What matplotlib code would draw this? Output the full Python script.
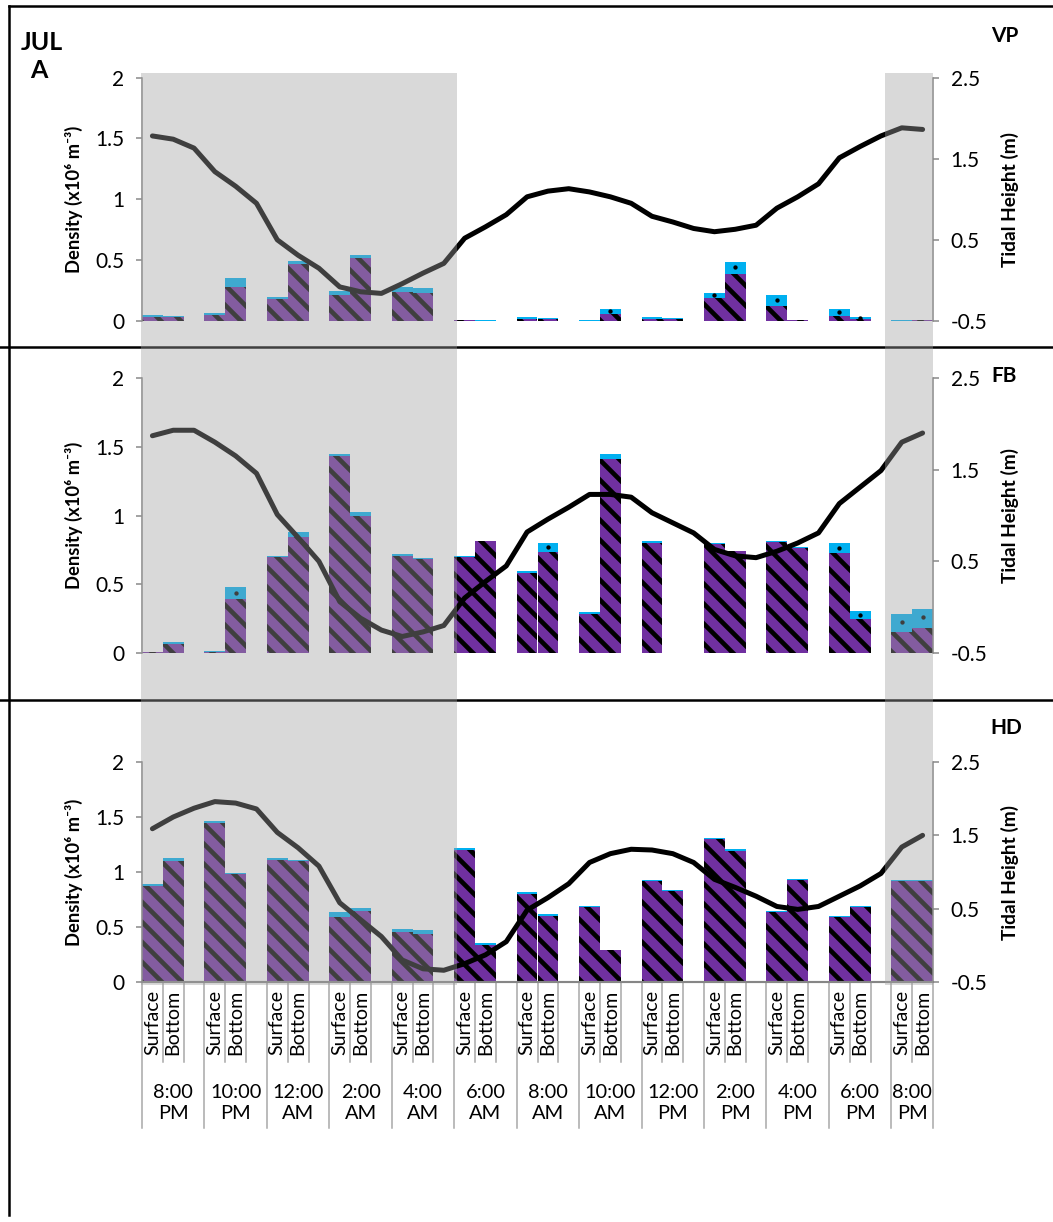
import numpy as np
import matplotlib
matplotlib.use("Agg")
import matplotlib.pyplot as plt
from matplotlib.patches import Rectangle
from matplotlib.lines import Line2D

plt.rcParams['font.family'] = ['Lato', 'DejaVu Sans']
plt.rcParams['hatch.linewidth'] = 2.8
plt.rcParams['hatch.color'] = 'black'

# ---------------- data ----------------
times = ["8:00\nPM", "10:00\nPM", "12:00\nAM", "2:00\nAM", "4:00\nAM", "6:00\nAM",
         "8:00\nAM", "10:00\nAM", "12:00\nPM", "2:00\nPM", "4:00\nPM", "6:00\nPM", "8:00\nPM"]
depths = ["Surface", "Bottom"]
sites = ["VP", "FB", "HD"]

# density (x10^6 m^-3): purple (hatched) part and cyan part stacked on top
vp_surface_purple = [0.035, 0.047, 0.180, 0.217, 0.242, 0.008, 0.016, 0.000, 0.020, 0.187, 0.121, 0.039, 0.000]
vp_surface_cyan   = [0.017, 0.019, 0.018, 0.031, 0.038, 0.004, 0.020, 0.005, 0.010, 0.047, 0.096, 0.057, 0.005]
vp_bottom_purple  = [0.030, 0.280, 0.465, 0.520, 0.234, 0.000, 0.014, 0.058, 0.016, 0.385, 0.005, 0.016, 0.008]
vp_bottom_cyan    = [0.015, 0.070, 0.030, 0.022, 0.033, 0.005, 0.008, 0.041, 0.006, 0.102, 0.000, 0.014, 0.002]

fb_surface_purple = [0.004, 0.010, 0.700, 1.432, 0.704, 0.700, 0.585, 0.283, 0.797, 0.790, 0.804, 0.726, 0.156]
fb_surface_cyan   = [0.006, 0.005, 0.004, 0.015, 0.016, 0.009, 0.009, 0.014, 0.017, 0.010, 0.014, 0.074, 0.127]
fb_bottom_purple  = [0.066, 0.390, 0.845, 1.000, 0.687, 0.815, 0.736, 1.410, 0.003, 0.740, 0.762, 0.246, 0.185]
fb_bottom_cyan    = [0.014, 0.090, 0.035, 0.025, 0.003, 0.003, 0.064, 0.037, 0.000, 0.005, 0.008, 0.056, 0.137]

hd_surface_purple = [0.870, 1.447, 1.110, 0.595, 0.452, 1.197, 0.800, 0.678, 0.915, 1.298, 0.638, 0.587, 0.915]
hd_surface_cyan   = [0.025, 0.013, 0.017, 0.045, 0.030, 0.024, 0.015, 0.012, 0.015, 0.015, 0.009, 0.013, 0.012]
hd_bottom_purple  = [1.100, 0.983, 1.096, 0.650, 0.434, 0.333, 0.600, 0.290, 0.830, 1.195, 0.927, 0.680, 0.918]
hd_bottom_cyan    = [0.027, 0.007, 0.012, 0.025, 0.042, 0.018, 0.017, 0.000, 0.006, 0.015, 0.009, 0.007, 0.009]

# groups with a small marker in the cyan segment
vp_mark_surface = [9, 10, 11]
vp_mark_bottom = [7, 9, 11]
fb_mark_surface = [11, 12]
fb_mark_bottom = [1, 6, 11, 12]
hd_mark_surface = []
hd_mark_bottom = []

# tidal height (m), one value per category slot (38 slots)
vp_tide = [1.78, 1.74, 1.63, 1.34, 1.16, 0.95, 0.50, 0.31, 0.15, -0.08, -0.14, -0.16, -0.04, 0.09, 0.21,
           0.52, 0.66, 0.81, 1.03, 1.10, 1.13, 1.09, 1.03, 0.95, 0.79, 0.72, 0.64, 0.60, 0.63, 0.68,
           0.89, 1.03, 1.19, 1.51, 1.65, 1.78, 1.88, 1.86]
fb_tide = [1.87, 1.93, 1.93, 1.80, 1.65, 1.46, 1.01, 0.76, 0.50, 0.06, -0.12, -0.25, -0.32, -0.27, -0.20,
           0.10, 0.28, 0.45, 0.82, 0.96, 1.09, 1.23, 1.23, 1.20, 1.03, 0.92, 0.81, 0.63, 0.56, 0.54,
           0.61, 0.70, 0.81, 1.13, 1.31, 1.49, 1.80, 1.90]
hd_tide = [1.59, 1.75, 1.87, 1.96, 1.94, 1.86, 1.54, 1.33, 1.08, 0.58, 0.35, 0.12, -0.20, -0.32, -0.34,
           -0.25, -0.13, 0.05, 0.48, 0.65, 0.84, 1.13, 1.25, 1.31, 1.30, 1.25, 1.13, 0.90, 0.79, 0.67,
           0.53, 0.49, 0.53, 0.67, 0.81, 0.98, 1.34, 1.50]

left_ticks = [0, 0.5, 1, 1.5, 2]
left_ticklabels = ["0", "0.5", "1", "1.5", "2"]
right_ticks = [-0.5, 0.5, 1.5, 2.5]
right_ticklabels = ["-0.5", "0.5", "1.5", "2.5"]

# ---------------- style ----------------
W, H = 1053, 1222
DPI = 120
PURPLE = "#7030A0"
CYAN = "#00B0F0"
AXGRAY = "#868686"
TABLEGRAY = "#A6A6A6"

fig = plt.figure(figsize=(W / DPI, H / DPI), dpi=DPI)
fig.patch.set_facecolor("white")

X0, X1 = 142, 933
panels = [
    dict(site="VP", top=77.5, bot=321, sp=vp_surface_purple, sc=vp_surface_cyan,
         bp=vp_bottom_purple, bc=vp_bottom_cyan, tide=vp_tide,
         ms=vp_mark_surface, mb=vp_mark_bottom, label_xy=(1005, 36)),
    dict(site="FB", top=378, bot=653, sp=fb_surface_purple, sc=fb_surface_cyan,
         bp=fb_bottom_purple, bc=fb_bottom_cyan, tide=fb_tide,
         ms=fb_mark_surface, mb=fb_mark_bottom, label_xy=(1004, 376)),
    dict(site="HD", top=762, bot=982, sp=hd_surface_purple, sc=hd_surface_cyan,
         bp=hd_bottom_purple, bc=hd_bottom_cyan, tide=hd_tide,
         ms=hd_mark_surface, mb=hd_mark_bottom, label_xy=(1006, 728)),
]

n_groups = len(times)
xs_surface = np.arange(n_groups) * 3
xs_bottom = xs_surface + 1
n_slots = len(vp_tide)


def fx(px):
    return px / W


def fy(py):
    return 1 - py / H


for i, p in enumerate(panels):
    ax = fig.add_axes([fx(X0), fy(p["bot"]), (X1 - X0) / W, (p["bot"] - p["top"]) / H])
    ax.patch.set_visible(False)
    ax.set_xlim(-0.5, n_slots - 0.5)
    ax.set_ylim(0, 2)

    for xs, pv, cv, marks in [(xs_surface, p["sp"], p["sc"], p["ms"]),
                              (xs_bottom, p["bp"], p["bc"], p["mb"])]:
        pv = np.array(pv)
        cv = np.array(cv)
        ax.bar(xs, pv, width=1.0, color=PURPLE, edgecolor="black", linewidth=0,
               hatch="\\\\", zorder=2)
        ax.bar(xs, cv, bottom=pv, width=1.0, color=CYAN, linewidth=0, zorder=2)
        if marks:
            mk = np.array(marks)
            ax.plot(xs[mk], pv[mk] + cv[mk] * 0.55, "o", ms=1.6, color="black",
                    zorder=3, linestyle="none")

    ax.set_xticks([])
    ax.set_yticks(left_ticks)
    ax.set_yticklabels(left_ticklabels)
    ax.tick_params(axis="y", direction="out", length=3.6, width=0.9, color=AXGRAY,
                   labelsize=12.5, pad=7)
    for s in ["top", "right"]:
        ax.spines[s].set_visible(False)
    ax.spines["left"].set_color(AXGRAY)
    ax.spines["left"].set_linewidth(0.9)
    if i < 2:
        ax.spines["bottom"].set_visible(False)
    else:
        ax.spines["bottom"].set_color(AXGRAY)
        ax.spines["bottom"].set_linewidth(1.3)

    ax2 = ax.twinx()
    ax2.patch.set_visible(False)
    ax2.set_ylim(-0.5, 2.5)
    ax2.plot(np.arange(n_slots), p["tide"], color="black", lw=3.0,
             solid_joinstyle="round", solid_capstyle="round", zorder=4)
    ax2.set_yticks(right_ticks)
    ax2.set_yticklabels(right_ticklabels)
    ax2.tick_params(axis="y", direction="out", length=3.6, width=0.9, color=AXGRAY,
                    labelsize=12.5, pad=7)
    for s in ["top", "left", "bottom"]:
        ax2.spines[s].set_visible(False)
    ax2.spines["right"].set_color(AXGRAY)
    ax2.spines["right"].set_linewidth(0.9)

    yc = (p["top"] + p["bot"]) / 2
    fig.text(fx(74), fy(yc), "Density (x10\u2076 m\u207b\u00b3)", rotation=90,
             ha="center", va="center", fontsize=11, fontweight="bold")
    fig.text(fx(1010), fy(yc), "Tidal Height (m)", rotation=90,
             ha="center", va="center", fontsize=11.5, fontweight="bold")
    fig.text(fx(p["label_xy"][0]), fy(p["label_xy"][1]), p["site"], ha="center",
             va="center", fontsize=12.5, fontweight="bold")

    if i == 2:
        axh = p["bot"] - p["top"]
        tr = ax.get_xaxis_transform()

        def yf(py):
            return -(py - p["bot"]) / axh

        for k in range(n_slots + 1):
            e = k - 0.5
            long_line = (k % 3 == 0) or (k == n_slots)
            yend = 1128 if long_line else 1062
            ax.plot([e, e], [0, yf(yend)], transform=tr, color=TABLEGRAY, lw=0.9,
                    clip_on=False, zorder=1)
        for g in range(n_groups):
            ax.text(xs_surface[g], yf(990), depths[0], rotation=90, ha="center",
                    va="top", fontsize=11.8, transform=tr)
            ax.text(xs_bottom[g], yf(990), depths[1], rotation=90, ha="center",
                    va="top", fontsize=11.8, transform=tr)
            xc = xs_surface[g] + 1 if g < n_groups - 1 else xs_surface[g] + 0.5
            ax.text(xc, yf(1103), times[g], ha="center", va="center", fontsize=12,
                    linespacing=1.35, transform=tr)

# night shading (overlay, semi-transparent on top)
for (a, b) in [(141, 457), (885, 933)]:
    fig.patches.append(Rectangle((fx(a), fy(985)), (b - a) / W, (985 - 73) / H,
                                 transform=fig.transFigure, facecolor=(160 / 255,) * 3,
                                 alpha=0.4, edgecolor="none", zorder=10))

# frame lines
frame = [([9, W], [6, 6]), ([9, 9], [6, 1215]), ([0, W], [347, 347]), ([0, W], [700, 700])]
for xsf, ysf in frame:
    fig.add_artist(Line2D([fx(v) for v in xsf], [fy(v) for v in ysf],
                          transform=fig.transFigure, color="black", lw=1.5, zorder=5))

fig.text(fx(21), fy(50), "JUL", ha="left", va="baseline", fontsize=15, fontweight="bold")
fig.text(fx(30), fy(78), "A", ha="left", va="baseline", fontsize=15, fontweight="bold")

fig.savefig("out.png", dpi=DPI)
